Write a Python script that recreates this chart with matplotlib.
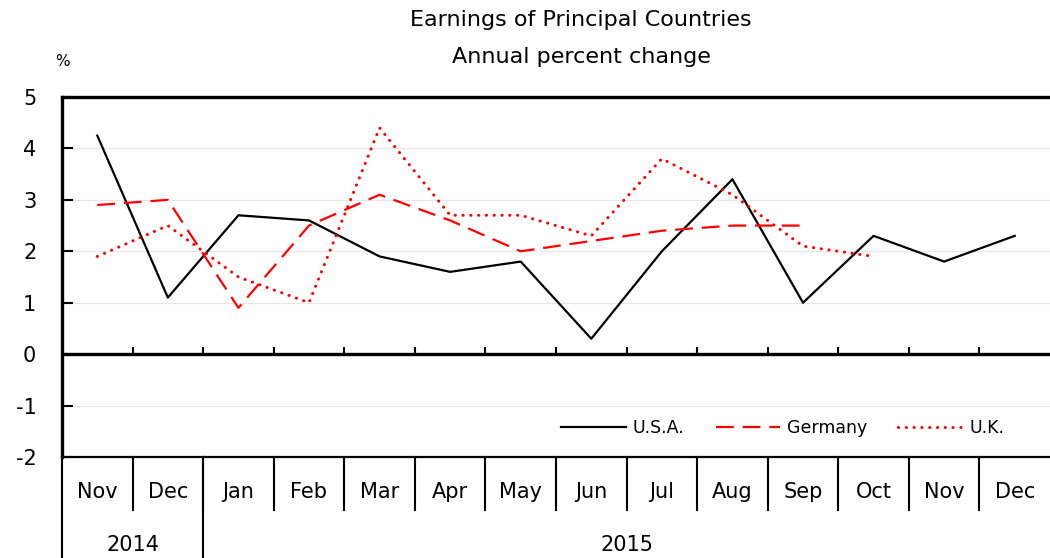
import numpy as np
import matplotlib.pyplot as plt
from matplotlib.transforms import blended_transform_factory

# Data
months = ['Nov', 'Dec', 'Jan', 'Feb', 'Mar', 'Apr', 'May', 'Jun',
          'Jul', 'Aug', 'Sep', 'Oct', 'Nov', 'Dec']
years = ['2014', '2015']
year_span = [(0, 1), (2, 13)]

usa = [4.25, 1.1, 2.7, 2.6, 1.9, 1.6, 1.8, 0.3, 2.0, 3.4, 1.0, 2.3, 1.8, 2.3]
germany = [2.9, 3.0, 0.9, 2.5, 3.1, 2.6, 2.0, 2.2, 2.4, 2.5, 2.5]
uk = [1.9, 2.5, 1.5, 1.0, 4.4, 2.7, 2.7, 2.3, 3.8, 3.1, 2.1, 1.9]

W, H = 1050, 558
fig = plt.figure(figsize=(W / 100, H / 100), dpi=100)
ax = fig.add_axes([62 / W, 1 - 457 / H, 988 / W, 360 / H])

x = np.arange(len(months))

ax.plot(x[:len(usa)], usa, color='black', lw=1.6, label='U.S.A.')
ax.plot(x[:len(germany)], germany, color='red', lw=1.6,
        linestyle=(0, (8, 4)), label='Germany')
ax.plot(x[:len(uk)], uk, color='red', lw=2.2,
        linestyle=(0, (0.05, 2.5)), dash_capstyle='round', label='U.K.')

ax.set_xlim(-0.5, len(months) - 0.5)
ax.set_ylim(-2, 5)
ax.set_yticks(np.arange(-2, 6))
ax.set_yticklabels([str(v) for v in range(-2, 6)], fontsize=15)
ax.tick_params(axis='y', direction='in', length=8, width=1.5, pad=18.5)
ax.set_xticks([])

# Faint gridlines
for v in [-1, 1, 2, 3, 4]:
    ax.axhline(v, color='#e6e6e6', lw=0.8, zorder=0)

# Spines
ax.spines['left'].set_linewidth(2.4)
ax.spines['top'].set_linewidth(2.4)
ax.spines['bottom'].set_linewidth(1.6)
ax.spines['right'].set_visible(False)

# Zero line with small ticks at month boundaries
ax.axhline(0, color='black', lw=2.4)
bounds = np.arange(len(months) - 1) + 0.5
ax.vlines(bounds, 0, 0.14, color='black', lw=1.5)

# Category table below the axes
tr = blended_transform_factory(ax.transData, ax.transAxes)
for b in bounds:
    ax.plot([b, b], [0, -0.147], transform=tr, color='black', lw=1.5,
            clip_on=False)
for i, m in enumerate(months):
    ax.text(i, -0.097, m, transform=tr, ha='center', va='center',
            fontsize=15)
for (a, b), yr in zip(year_span, years):
    ax.plot([a - 0.5, a - 0.5], [0, -0.3], transform=tr, color='black',
            lw=1.5, clip_on=False)
    ax.text((a + b) / 2, -0.244, yr, transform=tr, ha='center',
            va='center', fontsize=15)

# Legend
ax.legend(loc='center', bbox_to_anchor=(783 / W, 1 - 428 / H),
          bbox_transform=fig.transFigure, ncol=3, frameon=False,
          fontsize=12.5, handlelength=3.7, handletextpad=0.4,
          columnspacing=1.8)

# Titles
fig.text(581 / W, 1 - 20 / H, 'Earnings of Principal Countries',
         ha='center', va='center', fontsize=16)
fig.text(581 / W, 1 - 57 / H, 'Annual percent change',
         ha='center', va='center', fontsize=16)
fig.text(62 / W, 1 - 62 / H, '%', ha='center', va='center', fontsize=11)

fig.savefig('out.png', dpi=100)
